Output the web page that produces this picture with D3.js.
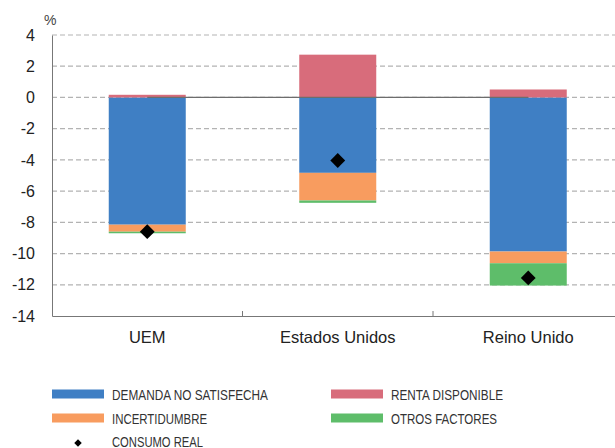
<!DOCTYPE html>
<html>
<head>
<meta charset="utf-8">
<script src="https://cdn.jsdelivr.net/npm/d3@7"></script>
<style>
  body { margin: 0; background: #fff; }
  svg { display: block; }
  .tick text { font-family: "Liberation Sans", Arial, sans-serif; }
</style>
</head>
<body>
<script>
// categories and series
var categories = ["UEM", "Estados Unidos", "Reino Unido"];
var demanda     = [-8.15, -4.83, -9.87];
var incert      = [-0.45, -1.77, -0.75];
var otros       = [-0.1, -0.15, -1.43];
var renta       = [0.17, 2.74, 0.51];
var consumo     = [-8.6, -4.04, -11.56];
var yTicks = [4, 2, 0, -2, -4, -6, -8, -10, -12, -14];

var colors = {
  demanda: "#3f7fc4",
  incert: "#f89c5f",
  otros: "#5ebd6a",
  renta: "#d86c7b"
};

var width = 615, height = 448;
var svg = d3.select("body").append("svg")
    .attr("width", width)
    .attr("height", height);

var x = d3.scaleBand().domain(categories).range([52, 623.5]).paddingInner(0).paddingOuter(0);
var y = d3.scaleLinear().domain([-14, 4]).range([316, 35]);
var barW = 77;

// gridlines
svg.append("g").selectAll("line")
    .data(yTicks.filter(function(d) { return d !== -14; }))
    .enter().append("line")
    .attr("x1", 52).attr("x2", width)
    .attr("y1", function(d) { return y(d); })
    .attr("y2", function(d) { return y(d); })
    .attr("stroke", "#b3b3b3")
    .attr("stroke-width", 1.2)
    .attr("stroke-dasharray", "5,3");

// stacked bars (negative stack downward, positive upward)
var rows = categories.map(function(c, i) {
  return { cat: c, demanda: demanda[i], incert: incert[i], otros: otros[i], renta: renta[i] };
});
var negKeys = ["demanda", "incert", "otros"];

rows.forEach(function(r) {
  var base = 0;
  var cx = x(r.cat) + x.bandwidth() / 2;
  negKeys.forEach(function(k) {
    var top = base, bottom = base + r[k];
    svg.append("rect")
        .attr("x", cx - barW / 2)
        .attr("width", barW)
        .attr("y", y(top))
        .attr("height", y(bottom) - y(top))
        .attr("fill", colors[k]);
    base = bottom;
  });
  svg.append("rect")
      .attr("x", cx - barW / 2)
      .attr("width", barW)
      .attr("y", y(r.renta))
      .attr("height", y(0) - y(r.renta))
      .attr("fill", colors.renta);
});

// zero line from first to last category center
svg.append("line")
    .attr("x1", x(categories[0]) + x.bandwidth() / 2)
    .attr("x2", x(categories[2]) + x.bandwidth() / 2)
    .attr("y1", y(0)).attr("y2", y(0))
    .attr("stroke", "#6d6d6d").attr("stroke-width", 1.3);

// consumo real diamonds
svg.append("g").selectAll("path")
    .data(consumo)
    .enter().append("path")
    .attr("d", d3.symbol().type(d3.symbolSquare).size(110))
    .attr("transform", function(d, i) {
      return "translate(" + (x(categories[i]) + x.bandwidth() / 2) + "," + y(d) + ") rotate(45)";
    })
    .attr("fill", "#000");

// y axis
var yAxis = svg.append("g")
    .attr("transform", "translate(52,0)")
    .call(d3.axisLeft(y).tickValues(yTicks).tickFormat(String).tickSize(0).tickPadding(17));
yAxis.select(".domain").attr("stroke", "#777");
yAxis.selectAll("text").attr("font-size", 16).attr("fill", "#222");

// x axis
var xAxis = svg.append("g")
    .attr("transform", "translate(0,316)")
    .call(d3.axisBottom(x).tickSize(0).tickPadding(15));
xAxis.select(".domain").attr("stroke", "#777");
xAxis.selectAll("text").attr("font-size", 16.5).attr("fill", "#222");

// band boundary ticks pointing up
svg.append("g").selectAll("line")
    .data(categories.slice(1))
    .enter().append("line")
    .attr("x1", function(d) { return x(d); })
    .attr("x2", function(d) { return x(d); })
    .attr("y1", 316).attr("y2", 311)
    .attr("stroke", "#777");

// unit
svg.append("text")
    .attr("x", 44).attr("y", 25)
    .attr("font-family", "Liberation Sans, Arial, sans-serif")
    .attr("font-size", 14)
    .attr("fill", "#444")
    .text("%");

// legend (condensed text)
var legend = [
  { label: "DEMANDA NO SATISFECHA", key: "demanda", x: 52, y: 394, w: 156 },
  { label: "RENTA DISPONIBLE", key: "renta", x: 331, y: 394, w: 112 },
  { label: "INCERTIDUMBRE", key: "incert", x: 52, y: 418, w: 95 },
  { label: "OTROS FACTORES", key: "otros", x: 331, y: 418, w: 106 }
];
var lg = svg.append("g");
legend.forEach(function(d) {
  lg.append("rect")
      .attr("x", d.x).attr("y", d.y - 4.5)
      .attr("width", 52).attr("height", 9)
      .attr("fill", colors[d.key]);
  lg.append("text")
      .attr("x", d.x + 60).attr("y", d.y + 5.5)
      .attr("font-family", "Liberation Sans Narrow, Arial Narrow, sans-serif")
      .attr("font-size", 15)
      .attr("textLength", d.w)
      .attr("lengthAdjust", "spacingAndGlyphs")
      .attr("fill", "#333")
      .text(d.label);
});
lg.append("path")
    .attr("d", d3.symbol().type(d3.symbolSquare).size(28))
    .attr("transform", "translate(78,443) rotate(45)")
    .attr("fill", "#000");
lg.append("text")
    .attr("x", 112).attr("y", 447)
    .attr("font-family", "Liberation Sans Narrow, Arial Narrow, sans-serif")
    .attr("font-size", 15)
    .attr("textLength", 91)
    .attr("lengthAdjust", "spacingAndGlyphs")
    .attr("fill", "#333")
    .text("CONSUMO REAL");
</script>
</body>
</html>
